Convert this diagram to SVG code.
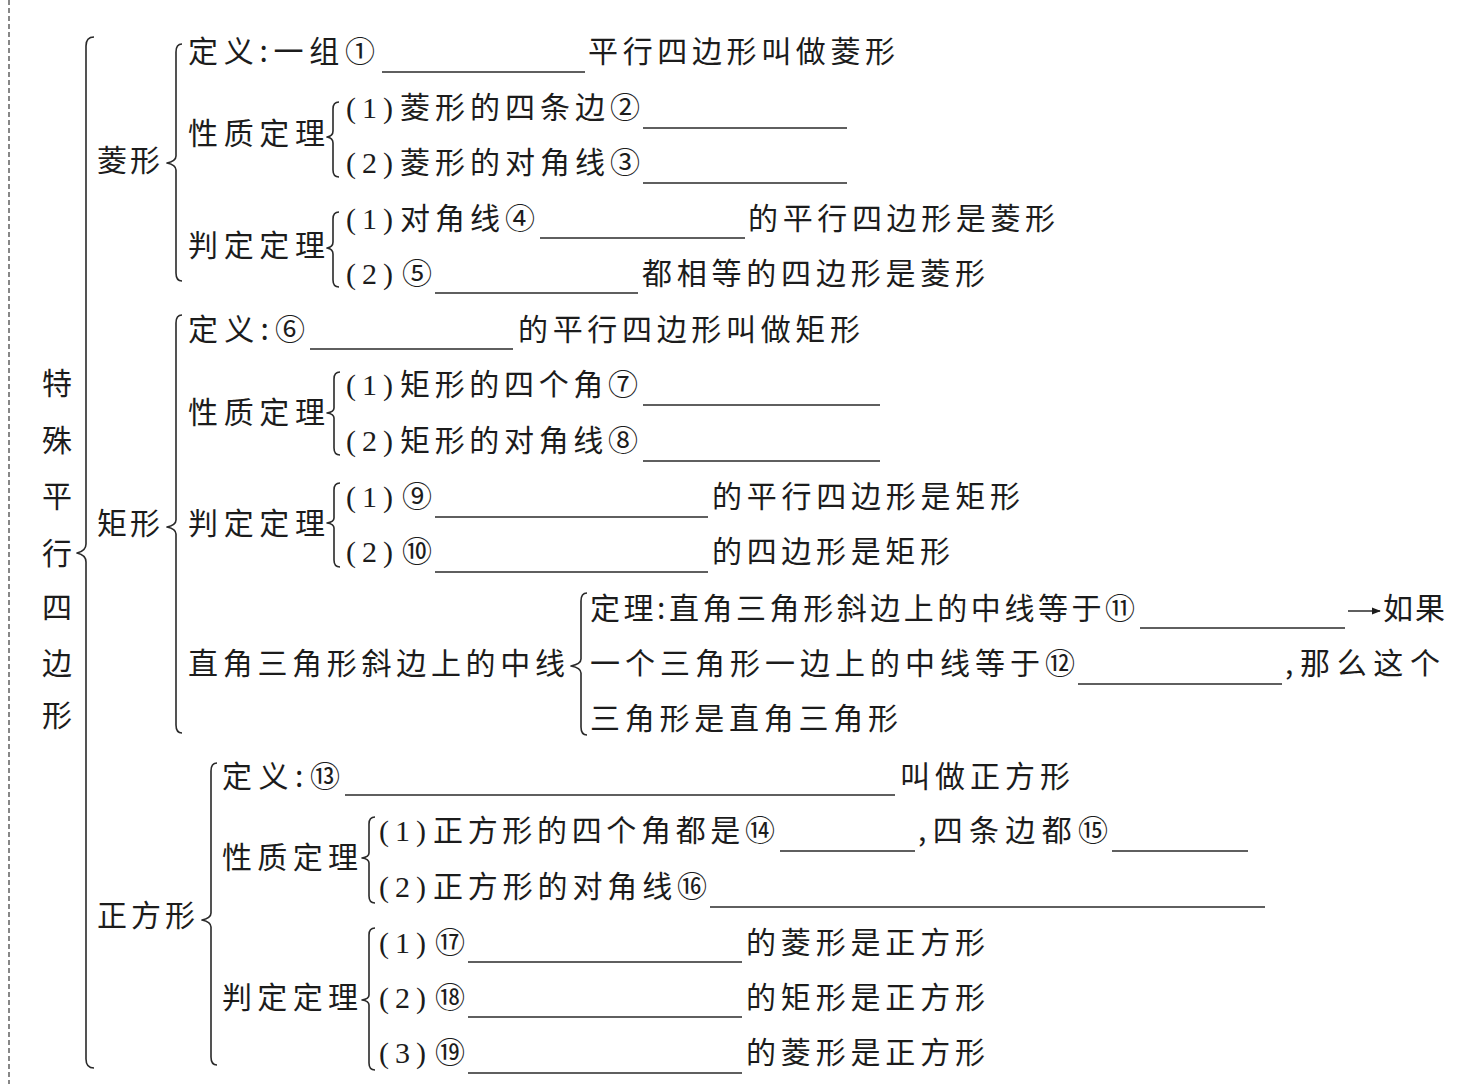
<svg xmlns="http://www.w3.org/2000/svg" width="1478" height="1084" viewBox="0 0 1478 1084">
<style>
.t { font-family: "Noto Sans CJK SC", "Noto Sans CJK JP", sans-serif; font-size: 30px; fill: #1c1c1c; }
.p { font-family: "Liberation Serif", "Times New Roman", serif; font-size: 30px; fill: #1c1c1c; letter-spacing: 6px; }
.m { text-anchor: middle; }
.u { stroke: #2a2a2a; stroke-width: 1.5; fill: none; }
.b { fill: none; stroke: #2a2a2a; stroke-width: 1.6; stroke-linejoin: round; }
</style>
<defs>
<marker id="ah" viewBox="0 0 10 10" refX="9" refY="5" markerWidth="9" markerHeight="9" markerUnits="userSpaceOnUse" orient="auto">
<path d="M0,1 L10,5 L0,9 Z" fill="#1c1c1c"/>
</marker>
</defs>
<rect x="0" y="0" width="1478" height="1084" fill="#ffffff"/>
<line x1="9" y1="0" x2="9" y2="1084" stroke="#555" stroke-width="1.4" stroke-dasharray="5 3"/>

<g id="connectors">
<path class="b" d="M94,37 Q86,37 86,46 L86,544 Q86,551 77,553 Q86,555 86,562 L86,1059 Q86,1068 94,1068"/>
<path class="b" d="M182,44 Q176,44 176,52 L176,156 Q176,161 167,163 Q176,165 176,170 L176,273 Q176,281 182,281"/>
<path class="b" d="M339,102 Q333,102 333,109 L333,131 Q333,136 327,137 Q333,138 333,143 L333,170 Q333,177 339,177"/>
<path class="b" d="M339,212 Q333,212 333,219 L333,242 Q333,247 327,248 Q333,249 333,254 L333,280 Q333,287 339,287"/>
<path class="b" d="M182,315 Q176,315 176,323 L176,520 Q176,525 167,527 Q176,529 176,534 L176,725 Q176,733 182,733"/>
<path class="b" d="M340,372 Q334,372 334,379 L334,408 Q334,412 327,413 Q334,414 334,418 L334,448 Q334,455 340,455"/>
<path class="b" d="M340,483 Q334,483 334,490 L334,518 Q334,522 327,523 Q334,524 334,528 L334,560 Q334,567 340,567"/>
<path class="b" d="M587,593 Q581,593 581,601 L581,659 Q581,664 571,666 Q581,668 581,673 L581,727 Q581,735 587,735"/>
<path class="b" d="M217,763 Q211,763 211,771 L211,913 Q211,918 202,920 Q211,922 211,927 L211,1057 Q211,1065 217,1065"/>
<path class="b" d="M375,817 Q369,817 369,824 L369,853 Q369,857 362,858 Q369,859 369,863 L369,896 Q369,903 375,903"/>
<path class="b" d="M375,928 Q369,928 369,935 L369,995 Q369,999 362,1000 Q369,1001 369,1005 L369,1063 Q369,1070 375,1070"/>
<line class="u" x1="1348" y1="611" x2="1380" y2="611" marker-end="url(#ah)"/>
</g>

<g id="title">
<text class="t m" x="57" y="394">特</text>
<text class="t m" x="57" y="451">殊</text>
<text class="t m" x="57" y="507">平</text>
<text class="t m" x="57" y="564">行</text>
<text class="t m" x="57" y="618">四</text>
<text class="t m" x="57" y="674">边</text>
<text class="t m" x="57" y="726">形</text>
</g>

<g id="rhombus">
<text class="t" x="97" y="171" textLength="63" lengthAdjust="spacing">菱形</text>
<text class="t" x="188" y="62" textLength="187" lengthAdjust="spacing">定义:一组①</text>
<line class="u" x1="382" y1="72" x2="585" y2="72"/>
<text class="t" x="588" y="62" textLength="307" lengthAdjust="spacing">平行四边形叫做菱形</text>
<text class="t" x="188" y="144" textLength="137" lengthAdjust="spacing">性质定理</text>
<text class="p" x="346" y="118">(1)</text>
<text class="t" x="400" y="118" textLength="240" lengthAdjust="spacing">菱形的四条边②</text>
<line class="u" x1="643" y1="128" x2="847" y2="128"/>
<text class="p" x="346" y="173">(2)</text>
<text class="t" x="400" y="173" textLength="240" lengthAdjust="spacing">菱形的对角线③</text>
<line class="u" x1="643" y1="183" x2="847" y2="183"/>
<text class="t" x="188" y="256" textLength="137" lengthAdjust="spacing">判定定理</text>
<text class="p" x="346" y="229">(1)</text>
<text class="t" x="400" y="229" textLength="135" lengthAdjust="spacing">对角线④</text>
<line class="u" x1="540" y1="238" x2="745" y2="238"/>
<text class="t" x="748" y="229" textLength="307" lengthAdjust="spacing">的平行四边形是菱形</text>
<text class="p" x="346" y="284">(2)</text>
<text class="t" x="402" y="284">⑤</text>
<line class="u" x1="435" y1="293" x2="638" y2="293"/>
<text class="t" x="642" y="284" textLength="343" lengthAdjust="spacing">都相等的四边形是菱形</text>
</g>

<g id="rectangle">
<text class="t" x="97" y="534" textLength="63" lengthAdjust="spacing">矩形</text>
<text class="t" x="188" y="340" textLength="117" lengthAdjust="spacing">定义:⑥</text>
<line class="u" x1="310" y1="349" x2="513" y2="349"/>
<text class="t" x="518" y="340" textLength="342" lengthAdjust="spacing">的平行四边形叫做矩形</text>
<text class="t" x="188" y="423" textLength="137" lengthAdjust="spacing">性质定理</text>
<text class="p" x="346" y="395">(1)</text>
<text class="t" x="400" y="395" textLength="238" lengthAdjust="spacing">矩形的四个角⑦</text>
<line class="u" x1="643" y1="405" x2="880" y2="405"/>
<text class="p" x="346" y="451">(2)</text>
<text class="t" x="400" y="451" textLength="238" lengthAdjust="spacing">矩形的对角线⑧</text>
<line class="u" x1="643" y1="461" x2="880" y2="461"/>
<text class="t" x="188" y="534" textLength="137" lengthAdjust="spacing">判定定理</text>
<text class="p" x="346" y="507">(1)</text>
<text class="t" x="402" y="507">⑨</text>
<line class="u" x1="435" y1="517" x2="708" y2="517"/>
<text class="t" x="712" y="507" textLength="308" lengthAdjust="spacing">的平行四边形是矩形</text>
<text class="p" x="346" y="562">(2)</text>
<text class="t" x="402" y="562">⑩</text>
<line class="u" x1="435" y1="572" x2="708" y2="572"/>
<text class="t" x="712" y="562" textLength="238" lengthAdjust="spacing">的四边形是矩形</text>
</g>

<g id="median">
<text class="t" x="188" y="674" textLength="377" lengthAdjust="spacing">直角三角形斜边上的中线</text>
<text class="t" x="590" y="619" textLength="545" lengthAdjust="spacing">定理:直角三角形斜边上的中线等于⑪</text>
<line class="u" x1="1140" y1="628" x2="1345" y2="628"/>
<text class="t" x="1383" y="619" textLength="62" lengthAdjust="spacing">如果</text>
<text class="t" x="590" y="674" textLength="485" lengthAdjust="spacing">一个三角形一边上的中线等于⑫</text>
<line class="u" x1="1078" y1="684" x2="1282" y2="684"/>
<text class="t" x="1285" y="674" textLength="155" lengthAdjust="spacing">,那么这个</text>
<text class="t" x="590" y="729" textLength="308" lengthAdjust="spacing">三角形是直角三角形</text>
</g>

<g id="square">
<text class="t" x="97" y="926" textLength="98" lengthAdjust="spacing">正方形</text>
<text class="t" x="222" y="787" textLength="118" lengthAdjust="spacing">定义:⑬</text>
<line class="u" x1="345" y1="795" x2="895" y2="795"/>
<text class="t" x="900" y="787" textLength="170" lengthAdjust="spacing">叫做正方形</text>
<text class="t" x="222" y="868" textLength="136" lengthAdjust="spacing">性质定理</text>
<text class="p" x="379" y="841">(1)</text>
<text class="t" x="433" y="841" textLength="342" lengthAdjust="spacing">正方形的四个角都是⑭</text>
<line class="u" x1="780" y1="851" x2="915" y2="851"/>
<text class="t" x="918" y="841" textLength="190" lengthAdjust="spacing">,四条边都⑮</text>
<line class="u" x1="1112" y1="851" x2="1248" y2="851"/>
<text class="p" x="379" y="897">(2)</text>
<text class="t" x="433" y="897" textLength="274" lengthAdjust="spacing">正方形的对角线⑯</text>
<line class="u" x1="710" y1="907" x2="1265" y2="907"/>
<text class="t" x="222" y="1008" textLength="136" lengthAdjust="spacing">判定定理</text>
<text class="p" x="379" y="953">(1)</text>
<text class="t" x="435" y="953">⑰</text>
<line class="u" x1="468" y1="962" x2="742" y2="962"/>
<text class="t" x="746" y="953" textLength="239" lengthAdjust="spacing">的菱形是正方形</text>
<text class="p" x="379" y="1008">(2)</text>
<text class="t" x="435" y="1008">⑱</text>
<line class="u" x1="468" y1="1017" x2="742" y2="1017"/>
<text class="t" x="746" y="1008" textLength="239" lengthAdjust="spacing">的矩形是正方形</text>
<text class="p" x="379" y="1063">(3)</text>
<text class="t" x="435" y="1063">⑲</text>
<line class="u" x1="468" y1="1073" x2="742" y2="1073"/>
<text class="t" x="746" y="1063" textLength="239" lengthAdjust="spacing">的菱形是正方形</text>
</g>
</svg>
